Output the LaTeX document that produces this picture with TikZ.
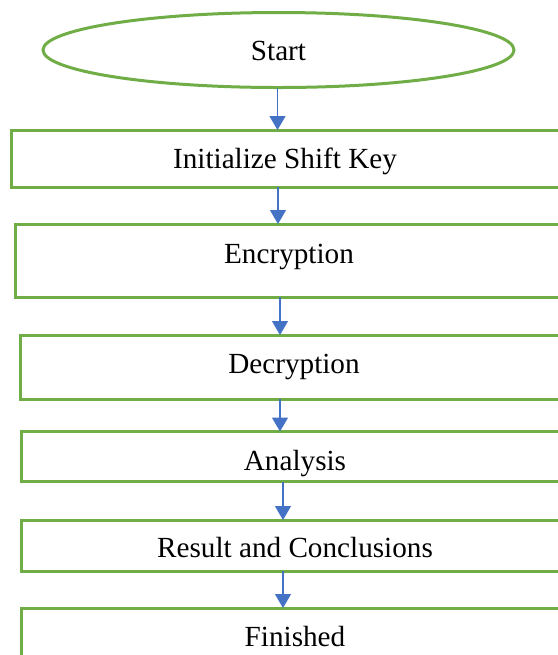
\documentclass[tikz,border=0pt]{standalone}
\usepackage{fontspec}
\setmainfont{Liberation Serif}
\usetikzlibrary{positioning,arrows.meta,shapes.geometric}
\definecolor{boxgreen}{HTML}{70AD47}
\definecolor{arrowblue}{HTML}{4472C4}
\tikzset{
    every node/.style={font=\fontsize{14.6}{17}\selectfont},
    startoval/.style={draw=boxgreen, line width=1.5pt, ellipse, inner sep=0pt, outer sep=0pt,
        minimum width=235.5pt, minimum height=37.5pt, text depth=4pt},
    stepbox/.style={draw=boxgreen, line width=1.5pt, rectangle, inner sep=0pt, outer sep=0pt,
        minimum width=274pt, text depth=4pt, align=center},
    arrow/.style={-{Triangle[width=8pt,length=7pt]}, draw=arrowblue, line width=0.7pt},
}
\begin{document}
\begin{tikzpicture}[x=0.5pt, y=-0.5pt]
\useasboundingbox (0,0) rectangle (558,655);
\clip (0,0) rectangle (558,655);

% the start oval and the chain of steps below it
\node [startoval, text height=14.7pt] (start) at (278.5,50) {Start};
\node [stepbox, below=21.25pt of start, xshift=3.25pt, minimum height=28.5pt, text height=13.7pt] (init) {Initialize Shift Key};
\node [stepbox, below=18.5pt of init, xshift=2pt, minimum height=36.5pt, text height=7.1pt] (enc) {Encryption};
\node [stepbox, below=19pt of enc, xshift=2.5pt, minimum height=32pt, text height=10.7pt] (dec) {Decryption};
\node [stepbox, below=16.25pt of dec, xshift=0.5pt, minimum height=25pt, text height=18pt] (ana) {Analysis};
\node [stepbox, below=19.25pt of ana, minimum height=25.5pt, text height=16.4pt] (res) {Result and Conclusions};
\node [stepbox, below=18.5pt of res, minimum height=25.5pt, text height=17.2pt] (fin) {Finished};

% arrows from each step down to the next one
\foreach \a/\b/\dx in {start/init/-0.5pt, init/enc/-3.5pt, enc/dec/-4.5pt, dec/ana/-7pt, ana/res/-6pt, res/fin/-6pt}{
  \draw[arrow] ([xshift=\dx]\a.south) -- ([xshift=\dx]\a.south |- \b.north);
}
\end{tikzpicture}
\end{document}
